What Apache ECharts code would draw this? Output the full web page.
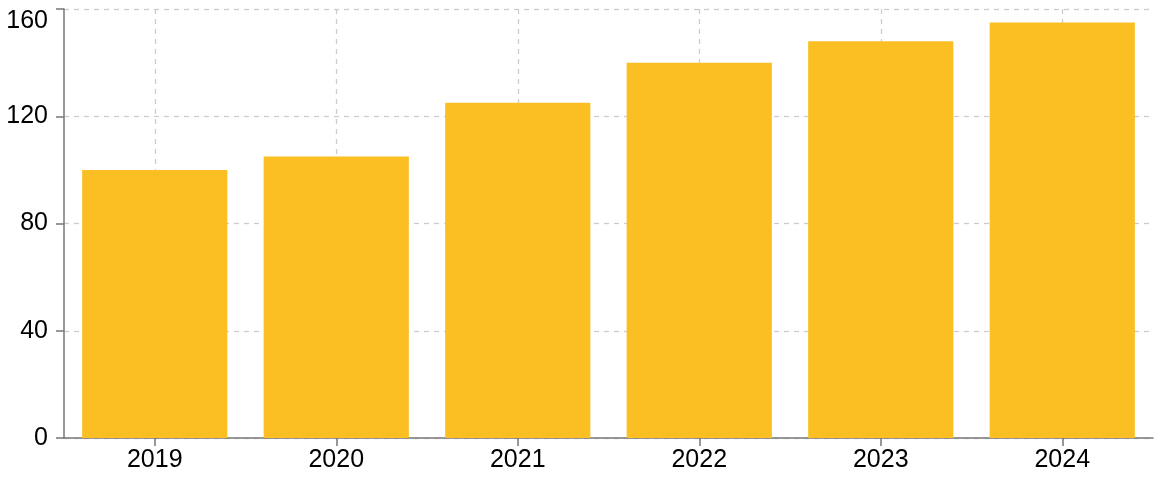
<!DOCTYPE html>
<html>
<head>
<meta charset="utf-8">
<script src="https://cdn.jsdelivr.net/npm/echarts@6/dist/echarts.min.js"></script>
<style>html,body{margin:0;padding:0;background:#fff}#c{width:1166px;height:489px}</style>
</head>
<body>
<div id="c"></div>
<script>
const categories = ['2019', '2020', '2021', '2022', '2023', '2024'];
const values = [100, 105, 125, 140, 148, 155];
const yTicks = [0, 40, 80, 120, 160];

const chart = echarts.init(document.getElementById('c'), null, {renderer: 'canvas'});
const font = '"Liberation Sans", Helvetica, Arial, sans-serif';
const yMax = yTicks[yTicks.length - 1];
chart.setOption({
  animation: false,
  grid: {left: 64, right: 13, top: 9, bottom: 51, containLabel: false},
  xAxis: {
    type: 'category',
    data: categories,
    axisLine: {lineStyle: {color: '#777', width: 1.5}},
    axisTick: {show: true, alignWithLabel: true, length: 8, lineStyle: {color: '#777', width: 1.5}},
    axisLabel: {color: '#000', fontSize: 25, fontFamily: font, margin: 10},
    splitLine: {show: true, alignWithLabel: true, lineStyle: {color: '#ccc', type: [5, 5], width: 1.3}}
  },
  yAxis: {
    type: 'value',
    min: yTicks[0],
    max: yMax,
    interval: 40,
    axisLine: {show: true, lineStyle: {color: '#777', width: 1.5}},
    axisTick: {show: true, length: 8, lineStyle: {color: '#777', width: 1.5}},
    axisLabel: {
      color: '#000', fontSize: 25, fontFamily: font, margin: 16,
      formatter: v => v === yMax ? '{top|' + v + '}' : String(v),
      rich: {top: {fontSize: 25, fontFamily: font, color: '#000', padding: [24, 0, 0, 0]}}
    },
    splitLine: {show: true, lineStyle: {color: '#ccc', type: [5, 5], width: 1.3}}
  },
  series: [{
    type: 'bar',
    data: values,
    barCategoryGap: '20%',
    itemStyle: {color: '#FBBF24'}
  }]
});
</script>
</body>
</html>
